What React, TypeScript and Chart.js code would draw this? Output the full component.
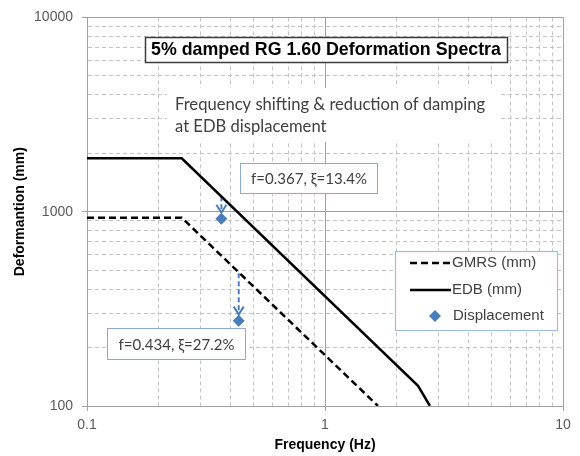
import React, { useEffect, useRef } from "react";
import { Chart, registerables } from "chart.js";

Chart.register(...registerables);

// ---- data ----
const gmrsFreq = [0.1, 0.25, 1.67];
const gmrsDef = [932, 932, 100];
const edbFreq = [0.1, 0.25, 2.46, 2.76];
const edbDef = [1883, 1883, 127, 100];
const dispFreq = [0.367, 0.434];
const dispDef = [920, 275];
const arrowFromDef = [1200, 482];
const dispLabels = ["f=0.367, \u03BE=13.4%", "f=0.434, \u03BE=27.2%"];
const seriesNames = ["GMRS (mm)", "EDB (mm)", "Displacement"];
const xGrid = [0.1, 0.2, 0.3, 0.4, 0.5, 0.6, 0.7, 0.8, 0.9, 1, 2, 3, 4, 5, 6, 7, 8, 9, 10];
const yGrid = [100, 200, 300, 400, 500, 600, 700, 800, 900, 1000, 2000, 3000, 4000, 5000, 6000, 7000, 8000, 9000, 10000];
const xMajor = [0.1, 1, 10];
const yMajor = [100, 1000, 10000];
const chartTitle = "5% damped RG 1.60 Deformation Spectra";
const noteLines = ["Frequency shifting & reduction of damping", "at EDB displacement"];
const xTitle = "Frequency (Hz)";
const yTitle = "Deformantion (mm)";

const BLUE = "#4a7ebb";
const MAJOR = "#a0a0a0";
const MINOR = "#c4c4c4";
const ARIAL = "'Liberation Sans', Arial, sans-serif";
const CALIBRI = "Lato, 'Open Sans', sans-serif";

function box(ctx: CanvasRenderingContext2D, x1: number, y1: number, x2: number, y2: number, stroke: string | null, lw: number) {
  ctx.fillStyle = "#ffffff";
  ctx.fillRect(x1, y1, x2 - x1, y2 - y1);
  if (stroke) {
    ctx.strokeStyle = stroke;
    ctx.lineWidth = lw;
    ctx.setLineDash([]);
    ctx.strokeRect(x1, y1, x2 - x1, y2 - y1);
  }
}

const overlayPlugin = {
  id: "overlays",
  beforeDatasetsDraw(chart: any) {
    const ctx: CanvasRenderingContext2D = chart.ctx;
    const xs = chart.scales.x;
    const ys = chart.scales.y;
    ctx.save();
    // title box
    box(ctx, 145.5, 37.5, 507.5, 62.5, "#3c3c3c", 1.5);
    ctx.fillStyle = "#000";
    ctx.font = `bold 17.8px ${ARIAL}`;
    ctx.textAlign = "center";
    ctx.textBaseline = "middle";
    ctx.fillText(chartTitle, 326, 50.5);

    // note area
    box(ctx, 167, 88, 500, 142, null, 0);
    ctx.fillStyle = "#404040";
    ctx.font = `16.6px ${CALIBRI}`;
    ctx.textAlign = "left";
    ctx.fillText(noteLines[0], 175, 105);
    ctx.fillText(noteLines[1], 175, 127);

    // label boxes
    const lb = [
      [240.5, 163.5, 377.5, 193.5],
      [107.5, 328.5, 245.5, 359.5],
    ];
    lb.forEach((b, i) => {
      box(ctx, b[0], b[1], b[2], b[3], "#8eaad0", 1);
      ctx.fillStyle = "#404040";
      ctx.font = `15px ${CALIBRI}`;
      ctx.textAlign = "center";
      ctx.fillText(dispLabels[i], (b[0] + b[2]) / 2, (b[1] + b[3]) / 2 + 1);
    });

    // arrows
    dispFreq.forEach((f, i) => {
      const x = xs.getPixelForValue(f);
      const y0 = ys.getPixelForValue(arrowFromDef[i]);
      const y1 = ys.getPixelForValue(dispDef[i]) - 6;
      ctx.strokeStyle = BLUE;
      ctx.lineWidth = 2;
      ctx.setLineDash([5, 3]);
      ctx.beginPath();
      ctx.moveTo(x, y0);
      ctx.lineTo(x, y1);
      ctx.stroke();
      ctx.setLineDash([]);
      ctx.beginPath();
      ctx.moveTo(x - 5, y1 - 8);
      ctx.lineTo(x, y1);
      ctx.lineTo(x + 5, y1 - 8);
      ctx.stroke();
    });
    ctx.restore();
  },
  afterDatasetsDraw(chart: any) {
    const ctx: CanvasRenderingContext2D = chart.ctx;
    ctx.save();
    box(ctx, 395.5, 251.5, 557.5, 330.5, "#a3bbd8", 1.2);
    const rows = [263, 290, 316];
    chart.data.datasets.forEach((ds: any, i: number) => {
      const y = rows[i];
      if (i < 2) {
        ctx.strokeStyle = ds.borderColor;
        ctx.lineWidth = ds.borderWidth;
        ctx.setLineDash(ds.borderDash || []);
        ctx.beginPath();
        ctx.moveTo(410, y);
        ctx.lineTo(451, y);
        ctx.stroke();
        ctx.setLineDash([]);
      } else {
        ctx.fillStyle = ds.backgroundColor;
        ctx.beginPath();
        ctx.moveTo(435, y - 6);
        ctx.lineTo(441, y);
        ctx.lineTo(435, y + 6);
        ctx.lineTo(429, y);
        ctx.closePath();
        ctx.fill();
      }
      ctx.fillStyle = "#404040";
      ctx.font = `15px ${ARIAL}`;
      ctx.textAlign = "left";
      ctx.textBaseline = "middle";
      ctx.fillText(ds.label, i < 2 ? 452 : 453, y);
    });
    ctx.restore();
  },
};

function gridColor(major: number[]) {
  return (c: any) => (c.tick && major.includes(c.tick.value) ? MAJOR : MINOR);
}
function tickColor(major: number[]) {
  return (c: any) => (c.tick && major.includes(c.tick.value) ? MAJOR : "rgba(0,0,0,0)");
}
function gridDash(major: number[]) {
  return (c: any) => (c.tick && major.includes(c.tick.value) ? [] : [4, 3]);
}

export default function App() {
  const ref = useRef<HTMLCanvasElement | null>(null);
  useEffect(() => {
    if (!ref.current) return;
    const chart = new Chart(ref.current, {
      type: "scatter",
      data: {
        datasets: [
          {
            label: seriesNames[0],
            data: gmrsFreq.map((f, i) => ({ x: f, y: gmrsDef[i] })),
            showLine: true,
            borderColor: "#000000",
            backgroundColor: "#000000",
            borderWidth: 2.5,
            borderDash: [7, 4],
            pointRadius: 0,
          },
          {
            label: seriesNames[1],
            data: edbFreq.map((f, i) => ({ x: f, y: edbDef[i] })),
            showLine: true,
            borderColor: "#000000",
            backgroundColor: "#000000",
            borderWidth: 2.5,
            pointRadius: 0,
          },
          {
            label: seriesNames[2],
            data: dispFreq.map((f, i) => ({ x: f, y: dispDef[i] })),
            showLine: false,
            pointStyle: "rectRot",
            pointRadius: 6,
            backgroundColor: BLUE,
            borderColor: BLUE,
            borderWidth: 0,
          },
        ],
      } as any,
      options: {
        animation: false,
        responsive: false,
        maintainAspectRatio: false,
        layout: { padding: { left: 0, right: 17, top: 13, bottom: 0 } },
        plugins: { legend: { display: false }, tooltip: { enabled: false }, title: { display: false } },
        scales: {
          x: {
            type: "logarithmic",
            min: 0.1,
            max: 10,
            afterBuildTicks: (s: any) => {
              s.ticks = xGrid.map((v) => ({ value: v }));
            },
            afterFit: (s: any) => {
              s.height = 50;
            },
            ticks: {
              autoSkip: false,
              maxRotation: 0,
              color: "#595959",
              font: { family: ARIAL, size: 14 },
              padding: 6,
              callback: (v: any) => (xMajor.includes(Number(v)) ? String(v) : ""),
            },
            grid: { color: gridColor(xMajor), lineWidth: 1, tickLength: 5, tickColor: tickColor(xMajor) },
            border: { color: MAJOR, width: 1, dash: gridDash(xMajor) },
            title: {
              display: true,
              text: xTitle,
              color: "#000",
              font: { family: ARIAL, size: 14, weight: "bold" },
              padding: { top: 0, bottom: 2 },
            },
          },
          y: {
            type: "logarithmic",
            min: 100,
            max: 10000,
            afterBuildTicks: (s: any) => {
              s.ticks = yGrid.map((v) => ({ value: v }));
            },
            afterFit: (s: any) => {
              s.width = 87;
            },
            ticks: {
              autoSkip: false,
              color: "#595959",
              font: { family: ARIAL, size: 14 },
              padding: 9,
              callback: (v: any) => (yMajor.includes(Number(v)) ? String(v) : ""),
            },
            grid: { color: gridColor(yMajor), lineWidth: 1, tickLength: 5, tickColor: tickColor(yMajor) },
            border: { color: MAJOR, width: 1, dash: gridDash(yMajor) },
            title: {
              display: true,
              text: yTitle,
              color: "#000",
              font: { family: ARIAL, size: 14, weight: "bold" },
              padding: { top: 12, bottom: 0 },
            },
          },
        },
      } as any,
      plugins: [overlayPlugin],
    });
    return () => chart.destroy();
  }, []);
  return (
    <div style={{ position: "absolute", left: 0, top: 0, width: 580, height: 456, background: "#fff" }}>
      <canvas ref={ref} width={580} height={456} style={{ display: "block" }} />
    </div>
  );
}
